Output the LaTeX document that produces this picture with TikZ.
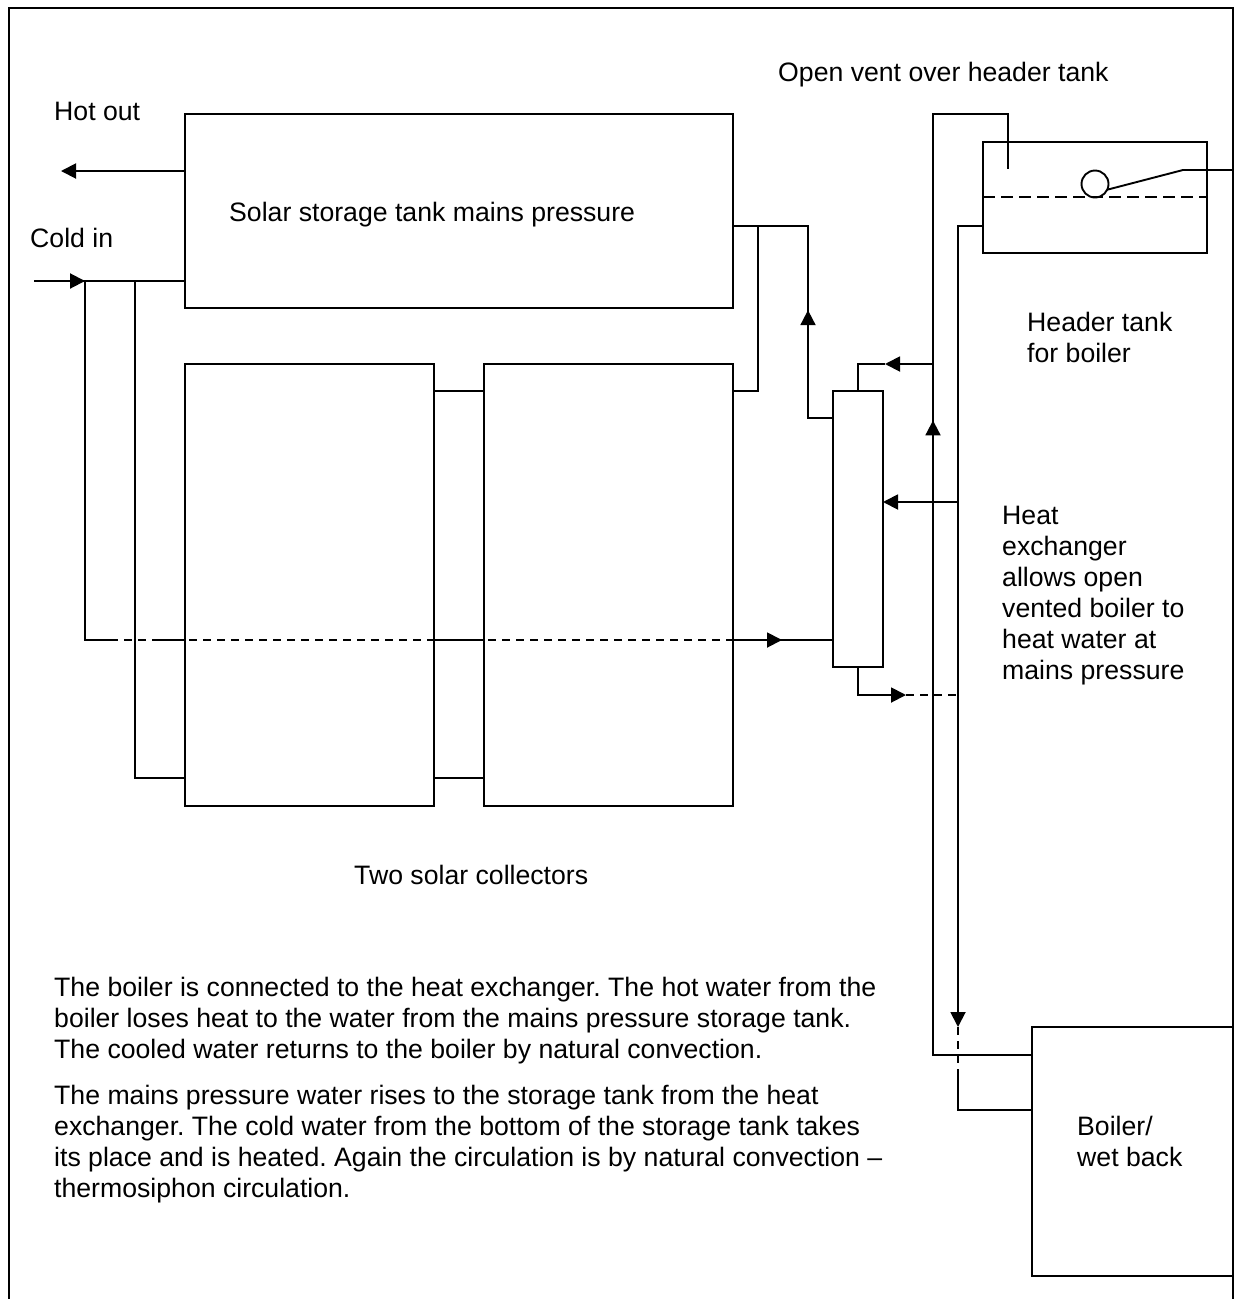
\documentclass[tikz,border=0pt]{standalone}
\usepackage{fontspec}
\setmainfont{Liberation Sans}
\usetikzlibrary{calc,arrows.meta,decorations.markings}

\begin{document}
\frenchspacing
\begin{tikzpicture}[
    x=1pt, y=-1pt,
    >={Triangle[length=15pt,width=15pt]},
    pipe/.style={line width=1.9pt},
    dash pipe/.style={line width=1.9pt, dash pattern=on 8pt off 6pt},
    level line/.style={line width=1.9pt, dash pattern=on 12pt off 6pt},
    arrow at/.style={postaction={decorate}, decoration={markings,
        mark=at position #1 with {\arrow{>}}}},
    unit/.style={draw, line width=1.9pt, anchor=north west, inner sep=0pt, outer sep=0pt},
    caption/.style={anchor=base west, inner sep=0pt, font=\fontsize{26.65}{31}\selectfont, align=left}
  ]

  \useasboundingbox (0,0) rectangle (1236,1299);

  % frame, open at the bottom
  \coordinate (FrameBL) at (9,1299);
  \coordinate (FrameTL) at (9,8);
  \coordinate (FrameTR) at (1233,8);
  \coordinate (FrameBR) at (1233,1299);
  \draw[pipe] (FrameBL) -- (FrameTL) -- (FrameTR) -- (FrameBR);

  % tanks and collectors
  \node[unit, minimum width=548pt, minimum height=194pt] (storage) at (185,114) {};
  \node[unit, minimum width=249pt, minimum height=442pt] (collA) at (185,364) {};
  \node[unit, minimum width=249pt, minimum height=442pt] (collB) at (484,364) {};
  \node[unit, minimum width=50pt, minimum height=276pt] (hx) at (833,391) {};
  \node[unit, minimum width=224pt, minimum height=111pt] (header) at (983,142) {};
  \node[unit, minimum width=201pt, minimum height=249pt] (boiler) at (1032,1027) {};

  % storage tank to the outside
  \coordinate (HotEnd) at (61,171);
  \coordinate (ColdEnd) at (34,281);
  \coordinate (ColdTee) at (85,281);
  \coordinate (ReturnTee) at (135,281);
  \coordinate (ColdSplit) at (85,640);
  \coordinate (ReturnLow) at (135,778);
  \coordinate (LinkHigh) at (0,391);
  \coordinate (StorageOut) at (733,226);
  \coordinate (RiserTee) at (758,226);
  \coordinate (RiserJoin) at (758,391);
  \coordinate (RiserTop) at (808,226);
  \coordinate (RiserLow) at (808,418);
  \coordinate (HxRiser) at (833,418);
  \coordinate (HxCold) at (833,640);
  \coordinate (HxTop) at (858,391);
  \coordinate (HxBot) at (858,667);

  \draw[pipe, ->] (storage.west |- HotEnd) -- (HotEnd);
  \draw[pipe, arrow at=0.338] (ColdEnd) -- (storage.west |- ColdEnd);
  \draw[pipe] (ColdTee) -- (ColdSplit) -- ++(25,0) coordinate (DashA);
  \draw[dash pipe] (DashA) -- ++(50,0) coordinate (DashB);
  \draw[pipe] (DashB) -- (collA.west |- DashB);
  \draw[pipe] (collA.east |- DashB) -- (collB.west |- DashB);
  \draw[dash pipe] (collB.west |- DashB) ++(4,0) -- (collB.east |- DashB);
  \draw[dash pipe] (collA.west |- DashB) ++(4,0) -- (collA.east |- DashB);
  \draw[pipe, arrow at=0.49] (collB.east |- DashB) -- (HxCold);
  \draw[pipe] (ReturnTee) -- (ReturnLow) -- (collA.west |- ReturnLow);

  % between the collectors
  \draw[pipe] (collA.east |- LinkHigh) -- (collB.west |- LinkHigh);
  \draw[pipe] (collA.east |- ReturnLow) -- (collB.west |- ReturnLow);
  \draw[pipe] (collB.east |- RiserJoin) -- (RiserJoin) -- (RiserTee);
  \draw[pipe, arrow at=0.455] (HxRiser) -- (RiserLow) -- (RiserTop) -- (StorageOut);

  % boiler circuit
  \coordinate (HotDown) at (933,1055);
  \coordinate (VentTop) at (933,114);
  \coordinate (VentCorner) at (1008,114);
  \coordinate (VentEnd) at (1008,169);
  \coordinate (HotTee) at (933,364);
  \coordinate (HotArrow) at (885,364);
  \coordinate (HxFeed) at (858,364);
  \coordinate (FeedTop) at (958,226);
  \coordinate (FeedArrow) at (958,1027);
  \coordinate (FeedSolid) at (958,1077);
  \coordinate (FeedLow) at (958,1110);
  \coordinate (HeatEnd) at (958,502);
  \coordinate (CoolCorner) at (858,695);
  \coordinate (CoolArrow) at (906,695);
  \coordinate (CoolEnd) at (958,695);

  \draw[pipe, arrow at=0.627] (boiler.west |- HotDown) -- (HotDown) -- (VentTop) -- (VentCorner) -- (VentEnd);
  \draw[pipe, ->] (HotTee) -- (HotArrow);
  \draw[pipe] (HotArrow) -- (HxFeed) -- (HxTop);
  \draw[pipe, ->] (header.west |- FeedTop) -- (FeedTop) -- (FeedArrow);
  \draw[dash pipe] (FeedArrow) -- (FeedSolid);
  \draw[pipe] (FeedSolid) -- (FeedLow) -- (boiler.west |- FeedLow);
  \draw[pipe, ->] (HeatEnd) -- (hx.east |- HeatEnd);
  \draw[pipe, ->] (HxBot) -- (CoolCorner) -- (CoolArrow);
  \draw[dash pipe] (CoolArrow) -- (CoolEnd);

  % float valve in the header tank
  \coordinate (WaterLevel) at (0,197);
  \coordinate (FloatArm) at (1183,170);
  \coordinate (MainsEnd) at (1233,170);
  \node[draw, circle, line width=1.9pt, minimum size=27pt, inner sep=0pt, outer sep=0pt] (float) at (1095,184) {};
  \draw[level line] (header.west |- WaterLevel) -- (header.east |- WaterLevel);
  \draw[pipe] (float.-25) -- (FloatArm) -- (MainsEnd);

  % labels
  \node[caption] (LabVent) at (778,81) {Open vent over header tank};
  \node[caption] (LabHot) at (54,120) {Hot out};
  \node[caption] (LabCold) at (30,247) {Cold in};
  \node[caption] (LabStorage) at (229,221) {Solar storage tank mains pressure};
  \node[caption, anchor=north west] (LabHeader) at (1027,312) {Header tank\\for boiler};
  \node[caption, anchor=north west] (LabHx) at (1002,506) {Heat\\exchanger\\allows open\\vented boiler to\\heat water at\\mains pressure};
  \node[caption] (LabTwo) at (354,884) {Two solar collectors};
  \node[caption, anchor=north west] (LabBoiler) at (1077,1116) {Boiler/\\wet back};
  \node[caption, anchor=north west] (LabParaA) at (54,977) {The boiler is connected to the heat exchanger. The hot water from the\\boiler loses heat to the water from the mains pressure storage tank.\\The cooled water returns to the boiler by natural convection.};
  \node[caption, anchor=north west] (LabParaB) at (54,1085) {The mains pressure water rises to the storage tank from the heat\\exchanger. The cold water from the bottom of the storage tank takes\\its place and is heated. Again the circulation is by natural convection --\\thermosiphon circulation.};

\end{tikzpicture}
\end{document}
